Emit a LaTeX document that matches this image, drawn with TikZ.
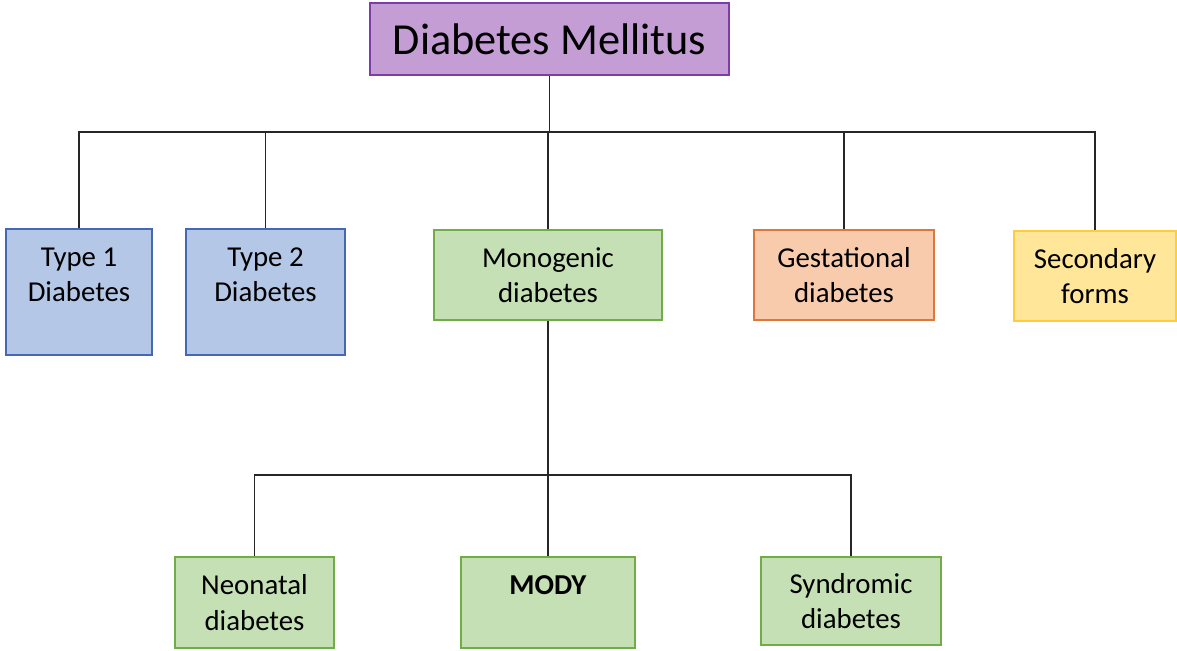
\documentclass[tikz,border=0pt]{standalone}
\usepackage{fontspec}
\setmainfont{Carlito}
\usepackage{tikz}

\definecolor{dmfill}{RGB}{195,157,211}
\definecolor{dmline}{RGB}{125,60,170}
\definecolor{bluefill}{RGB}{180,199,231}
\definecolor{blueline}{RGB}{68,104,180}
\definecolor{greenfill}{RGB}{197,224,180}
\definecolor{greenline}{RGB}{112,173,71}
\definecolor{orangefill}{RGB}{248,203,173}
\definecolor{orangeline}{RGB}{220,120,60}
\definecolor{yellowfill}{RGB}{255,230,153}
\definecolor{yellowline}{RGB}{255,205,60}

\tikzset{
  box/.style={draw, line width=0.55pt, inner sep=0pt, align=center,
    font=\fontsize{8.2}{10}\selectfont},
  conn/.style={draw=black!85, line width=0.42pt}
}

\begin{document}
\begin{tikzpicture}[x=0.01cm, y=-0.01cm]
\useasboundingbox (0,0) rectangle (1177,650);

% top
\node[box, fill=dmfill, draw=dmline, minimum width=3.59cm, minimum height=0.72cm,
  font=\fontsize{12.6}{15}\selectfont] (dm) at (549.5,39) {Diabetes Mellitus};

% first level
\node[box, fill=bluefill, draw=blueline, minimum width=1.46cm, minimum height=1.26cm] (t1) at (79,292) {Type 1\\Diabetes\\\mbox{}};
\node[box, fill=bluefill, draw=blueline, minimum width=1.59cm, minimum height=1.26cm] (t2) at (265.5,292) {Type 2\\Diabetes\\\mbox{}};
\node[box, fill=greenfill, draw=greenline, minimum width=2.28cm, minimum height=0.90cm] (mono) at (548,275) {Monogenic\\diabetes};
\node[box, fill=orangefill, draw=orangeline, minimum width=1.80cm, minimum height=0.90cm] (gest) at (844,275) {Gestational\\diabetes};
\node[box, fill=yellowfill, draw=yellowline, minimum width=1.62cm, minimum height=0.90cm] (sec) at (1095,276) {Secondary\\forms};

% monogenic subtypes
\node[box, fill=greenfill, draw=greenline, minimum width=1.59cm, minimum height=0.91cm] (neo) at (254.5,602.5) {Neonatal\\diabetes};
\node[box, fill=greenfill, draw=greenline, minimum width=1.74cm, minimum height=0.91cm] (mody) at (548,602.5) {\textbf{MODY}\\\mbox{}};
\node[box, fill=greenfill, draw=greenline, minimum width=1.80cm, minimum height=0.88cm] (syn) at (851,601) {Syndromic\\diabetes};

\coordinate (busA) at (549,132);
\coordinate (busB) at (548,475);

% connectors
\draw[conn] (dm.south) -- (dm.south |- busA);
\draw[conn] (t1.north) |- (busA) -| (sec.north);
\foreach \n in {t2,mono,gest}
  \draw[conn] (\n.north) -- (\n.north |- busA);
\draw[conn] (mono.south) -- (mody.north);
\draw[conn] (neo.north) |- (busB) -| (syn.north);
\end{tikzpicture}
\end{document}
